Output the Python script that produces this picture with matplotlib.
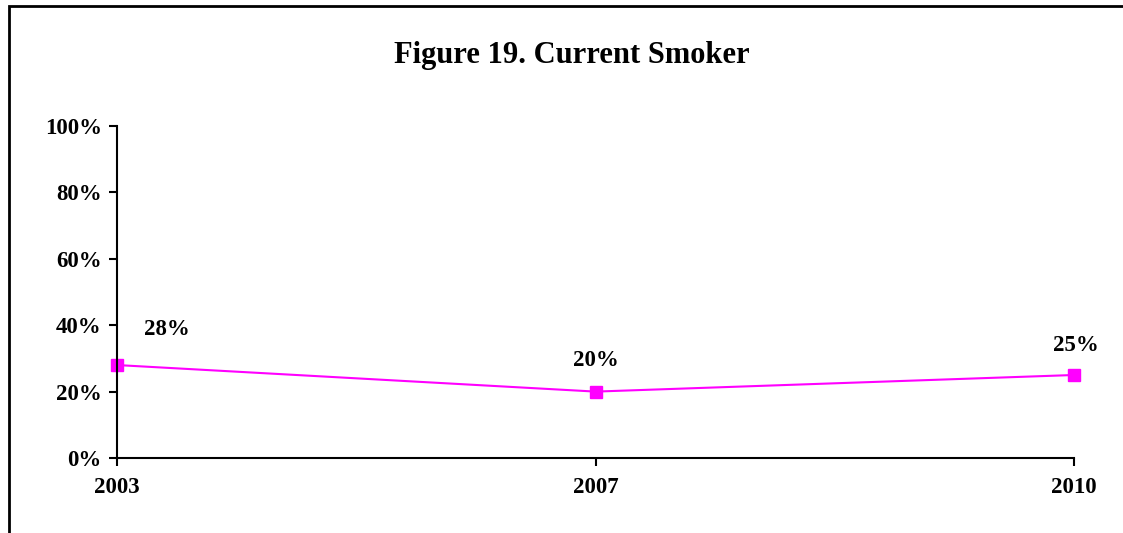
import matplotlib
matplotlib.use("Agg")
import matplotlib.pyplot as plt
from matplotlib.patches import Rectangle

years = ["2003", "2007", "2010"]
values = [28, 20, 25]
labels = ["28%", "20%", "25%"]
yticks = [0, 20, 40, 60, 80, 100]
title = "Figure 19. Current Smoker"

plt.rcParams['font.family'] = ['Liberation Serif', 'DejaVu Serif']
plt.rcParams['font.weight'] = 'bold'

fig = plt.figure(figsize=(11.23, 5.33), dpi=100)
ax = fig.add_axes([117/1123, 1-458/533, (1074-117)/1123, (458-126)/533])

x = list(range(len(years)))
ax.plot(x, values, color='#FF00FF', linewidth=1.5, marker='s', markersize=8,
        markerfacecolor='#FF00FF', markeredgecolor='#FF00FF', clip_on=False)

offsets = [(36, 18), (0, 15), (1, 14)]
for xi, v, lab, off in zip(x, values, labels, offsets):
    ax.annotate(lab, (xi, v), xytext=off, textcoords='offset points',
                ha='center', va='bottom', fontsize=16.5, fontweight='bold')

ax.set_xlim(0, len(years)-1)
ax.set_ylim(0, 100)
ax.set_xticks(x)
ax.set_xticklabels(years, fontsize=16.5, fontweight='bold')
ax.set_yticks(yticks)
ax.set_yticklabels([f"{t}%" for t in yticks], fontsize=16.5, fontweight='bold')
for s in ['top', 'right']:
    ax.spines[s].set_visible(False)
for s in ['left', 'bottom']:
    ax.spines[s].set_linewidth(1.5)
ax.tick_params(axis='y', direction='out', length=6, width=1.5, pad=5)
ax.tick_params(axis='x', direction='out', length=6, width=1.5, pad=8)

fig.text(572/1123, 1-55/533, title, ha='center', va='center', fontsize=22, fontweight='bold')

fig.patches.append(Rectangle((9/1123, -0.1), 1.2, 1 - 6/533 + 0.1, transform=fig.transFigure,
                             fill=False, edgecolor='black', linewidth=2))

fig.savefig("out.png", dpi=100)
